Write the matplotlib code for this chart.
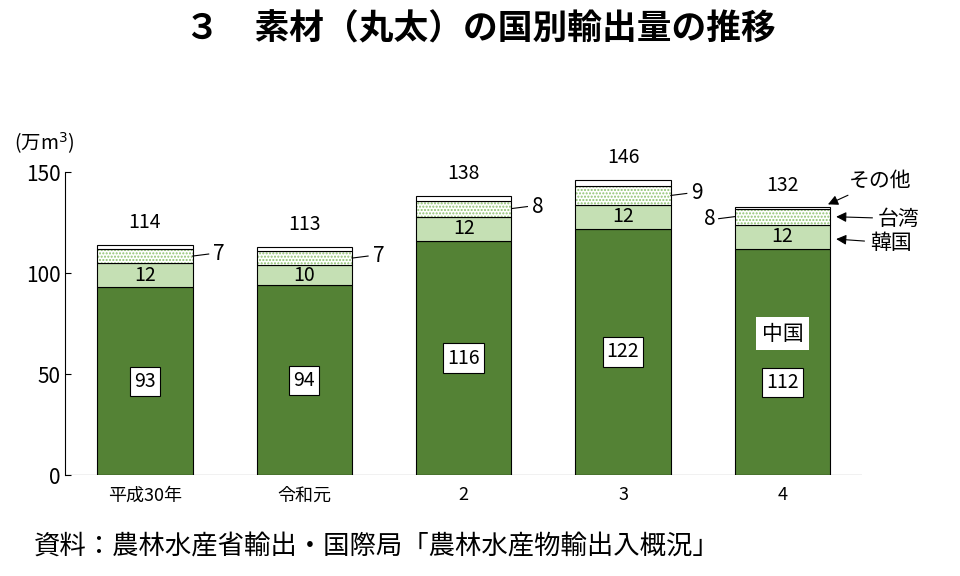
import matplotlib.pyplot as plt
import numpy as np

plt.rcParams['font.family'] = ['Noto Sans CJK JP']
plt.rcParams['hatch.color'] = '#8dc26f'

years = ['平成30年', '令和元', '2', '3', '4']
china = [93, 94, 116, 122, 112]
korea = [12, 10, 12, 12, 12]
taiwan = [7, 7, 8, 9, 8]
others = [2, 2, 2, 3, 1]
totals = [114, 113, 138, 146, 132]

fig = plt.figure(figsize=(9.6, 5.76), dpi=100)
ax = fig.add_axes([0.068, 0.175, 0.83, 0.526])
x = np.arange(len(years))
w = 0.6
c = np.array(china); k = np.array(korea); t = np.array(taiwan)
ax.bar(x, china, w, color='#548235', edgecolor='black', lw=0.8)
ax.bar(x, korea, w, bottom=c, color='#c5e0b4', edgecolor='black', lw=0.8)
ax.bar(x, taiwan, w, bottom=c + k, color='white', edgecolor='#8dc26f', hatch='.....', lw=0)
ax.bar(x, taiwan, w, bottom=c + k, fill=False, edgecolor='black', lw=0.8)
ax.bar(x, others, w, bottom=c + k + t, color='white', edgecolor='black', lw=0.8)

for i in range(len(x)):
    ly = china[i] / 2 if i < 4 else 46
    ax.text(x[i], ly, str(china[i]), ha='center', va='center', fontsize=14,
            bbox=dict(facecolor='white', edgecolor='black', lw=0.8, pad=3))
    ax.text(x[i], c[i] + k[i] / 2, str(korea[i]), ha='center', va='center', fontsize=14)
    ax.text(x[i], totals[i] + 6, str(totals[i]), ha='center', va='bottom', fontsize=14)
    ty = c[i] + k[i] + t[i] / 2
    if i < 4:
        ax.plot([x[i] + w / 2, x[i] + w / 2 + 0.1], [ty, ty + 1], color='black', lw=0.8)
        ax.text(x[i] + w / 2 + 0.13, ty + 1, str(taiwan[i]), ha='left', va='center', fontsize=15)
    else:
        ax.plot([x[i] - w / 2, x[i] - w / 2 - 0.1], [ty, ty - 1], color='black', lw=0.8)
        ax.text(x[i] - w / 2 - 0.12, ty - 1, str(taiwan[i]), ha='right', va='center', fontsize=15)

ax.text(x[4], 70, '中国', ha='center', va='center', fontsize=15,
        bbox=dict(facecolor='white', edgecolor='none', pad=4))
ax.annotate('その他', xy=(x[4] + 0.27, c[4] + k[4] + t[4] + 1.5), xytext=(x[4] + 0.42, 146),
            fontsize=15, va='center', arrowprops=dict(arrowstyle='-|>', color='black', lw=0.8))
ax.annotate('台湾', xy=(x[4] + 0.32, c[4] + k[4] + t[4] / 2), xytext=(x[4] + 0.6, c[4] + k[4] + t[4] / 2 - 1),
            fontsize=15, va='center', arrowprops=dict(arrowstyle='-|>', color='black', lw=0.8))
ax.annotate('韓国', xy=(x[4] + 0.32, c[4] + k[4] / 2 - 1), xytext=(x[4] + 0.55, c[4] + k[4] / 2 - 3),
            fontsize=15, va='center', arrowprops=dict(arrowstyle='-|>', color='black', lw=0.8))

ax.set_xlim(-0.5, 4.5)
ax.set_ylim(0, 150)
ax.set_yticks([0, 50, 100, 150])
ax.tick_params(axis='y', labelsize=15, direction='in', length=4)
ax.set_xticks(x)
ax.set_xticklabels(years, fontsize=13)
ax.tick_params(axis='x', length=0, pad=8)
ax.spines['top'].set_visible(False)
ax.spines['right'].set_visible(False)
ax.spines['bottom'].set_visible(False)
ax.axhline(0, color='black', lw=0.8)

fig.text(0.015, 0.74, '(万m$^3$)', fontsize=14)
fig.text(0.5, 0.95, '３　素材（丸太）の国別輸出量の推移', ha='center', va='center', fontsize=25, fontweight='bold')
fig.text(0.035, 0.05, '資料：農林水産省輸出・国際局「農林水産物輸出入概況」', ha='left', va='center', fontsize=19)

fig.savefig('out.png', dpi=100)
